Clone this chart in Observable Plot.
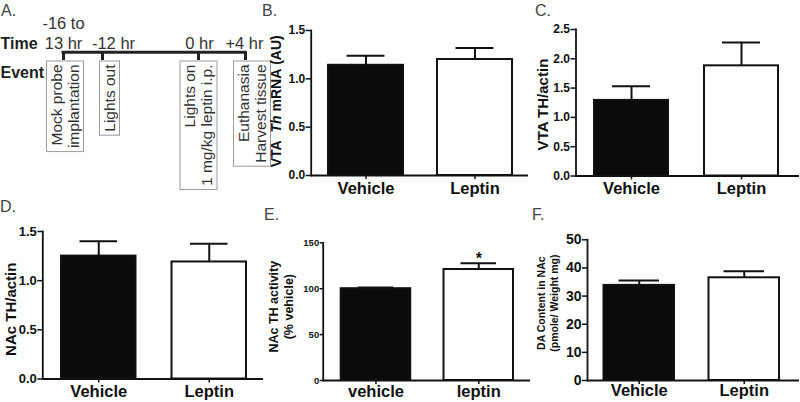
<!DOCTYPE html>
<html><head><meta charset="utf-8">
<script src="https://cdn.jsdelivr.net/npm/d3@7"></script>
<script src="https://cdn.jsdelivr.net/npm/@observablehq/plot@0.6"></script>
<style>
html,body{margin:0;padding:0;background:#fff;}
#fig{position:relative;width:800px;height:402px;overflow:hidden;font-family:"Liberation Sans",Arial,Helvetica,sans-serif;}
#fig svg{position:absolute;}
.letter{position:absolute;font-size:16px;line-height:1;color:#444;}
</style></head><body><div id="fig"></div>
<script>
// ---------------- DATA ----------------
// Panel A: timeline
const eventTimes = [-16, -12, 0, 4];
const timeLabels = ["-16 to\n13 hr", "-12 hr", "0 hr", "+4 hr"];
const eventLabels = [["Mock probe", "implantation"], ["Lights out"], ["Lights on", "1 mg/kg leptin i.p."], ["Euthanasia", "Harvest tissue"]];
const rowLabels = ["Time", "Event"];
// Groups
const groupsCap = ["Vehicle", "Leptin"];
const groupsLow = ["vehicle", "leptin"];
// Panel B: VTA Th mRNA
const vtaMrna = [1.14, 1.20];
const vtaMrnaSem = [0.10, 0.12];
const vtaMrnaTicks = [0, 0.5, 1.0, 1.5];
// Panel C: VTA TH/actin
const vtaActin = [1.29, 1.88];
const vtaActinSem = [0.24, 0.40];
const vtaActinTicks = [0, 0.5, 1.0, 1.5, 2.0, 2.5];
// Panel D: NAc TH/actin
const nacActin = [1.25, 1.19];
const nacActinSem = [0.15, 0.185];
const nacActinTicks = [0, 0.5, 1.0, 1.5];
// Panel E: NAc TH activity (% vehicle)
const nacActivity = [100, 120.9];
const nacActivitySem = [1.3, 6.9];
const nacActivitySig = ["", "*"];
const nacActivityTicks = [0, 50, 100, 150];
// Panel F: DA content in NAc
const nacDA = [33.8, 36.5];
const nacDASem = [1.7, 2.3];
const nacDATicks = [0, 10, 20, 30, 40, 50];

// ---------------- LAYOUT ----------------
const FONT = '"Liberation Sans", Arial, Helvetica, sans-serif';
const INK = "#111";
const fig = document.getElementById("fig");

function place(svg, left, top) {
  svg.style.left = left + "px";
  svg.style.top = top + "px";
  fig.appendChild(svg);
}

// ---- Panel A ----
const aL = {w: 260, h: 200, tickPx: [63, 102, 198, 245], timeShift: [0, 11, 1, -1],
  boxShift: [2, 7.5, 0.5, 7], rowY: [48, 77], timeBaseline: 48, lineY: 51.7, tickY2: 60,
  boxTop: 61, textPad: 3, linePitch: 17, boxPadBottom: 4, boxFont: 15.5};
const xA = d3.scaleLinear().domain(eventTimes).range(aL.tickPx);
const ctx = document.createElement("canvas").getContext("2d");
ctx.font = `${aL.boxFont}px "Liberation Sans"`;
const boxes = eventLabels.map((lines, i) => {
  const cx = aL.tickPx[i] + aL.boxShift[i];
  const w = lines.length * aL.linePitch + 3;
  const len = d3.max(lines, s => ctx.measureText(s).width);
  return {i, cx, w, y2: aL.boxTop + aL.textPad + len + aL.boxPadBottom};
});
const boxLines = eventLabels.flatMap((lines, i) => lines.map((s, j) => ({
  text: s, cx: boxes[i].cx + (j - (lines.length - 1) / 2) * aL.linePitch
})));

const svgA = Plot.plot({
  width: aL.w, height: aL.h, margin: 0,
  style: {fontFamily: FONT, background: "transparent", overflow: "visible"},
  x: {type: "linear", domain: eventTimes, range: aL.tickPx, axis: null},
  y: {type: "linear", domain: [0, aL.h], range: [0, aL.h], axis: null},
  marks: [
    Plot.text(rowLabels, {frameAnchor: "left", y: (d, i) => aL.rowY[i], text: d => d,
      textAnchor: "start", lineAnchor: "bottom", fontWeight: "bold", fontSize: 16, fill: "#222"}),
    Plot.text(timeLabels, {x: (d, i) => xA.invert(xA(eventTimes[i]) + aL.timeShift[i]), y: aL.timeBaseline,
      text: d => d, textAnchor: "middle", lineAnchor: "bottom", lineHeight: 1.2, fontSize: 16.5, fill: "#333"}),
    Plot.ruleY([aL.lineY], {x1: eventTimes[0], x2: eventTimes[eventTimes.length - 1], stroke: "#222", strokeWidth: 3, strokeLinecap: "square"}),
    Plot.ruleX(eventTimes, {x: d => d, y1: aL.lineY, y2: aL.tickY2, stroke: "#222", strokeWidth: 3}),
    Plot.rect(boxes, {x1: d => xA.invert(d.cx - d.w / 2), x2: d => xA.invert(d.cx + d.w / 2),
      y1: aL.boxTop, y2: "y2", fill: "none", stroke: "#9a9a9a", strokeWidth: 1}),
    Plot.text(boxLines, {x: d => xA.invert(d.cx), y: aL.boxTop + aL.textPad, text: "text", rotate: -90,
      textAnchor: "end", lineAnchor: "middle", fontSize: aL.boxFont, fill: "#333"})
  ]
});
place(svgA, 0, 0);

// ---- Bar panels ----
function bandFit(f0, f1, L1, R2, w) {
  const s = (R2 - w / 2) - (L1 + w / 2);
  const pi = 1 - w / s;
  const po = ((f1 - f0) / s - 2 + pi) / 2;
  const align = (L1 - f0) / (f1 - f0 - s * (2 - pi));
  return {paddingInner: pi, paddingOuter: po, align: Math.max(0, Math.min(1, align))};
}

function barPanel(c) {
  const L = c.layout;
  const ml = L.axisX - L.left, mr = L.left + L.w - L.axisRight;
  const mt = L.yTop - L.top, mb = L.top + L.h - L.yBottom;
  const band = bandFit(ml, L.w - mr, L.bar1 - L.left, L.bar2 - L.left, L.barW);
  const rows = c.groups.map((g, i) => ({group: g, value: c.values[i], sem: c.sem[i], sig: c.sig ? c.sig[i] : ""}));
  const marks = [
    Plot.barY(rows, {x: "group", y: "value", fill: "group", stroke: INK, strokeWidth: 2}),
    Plot.ruleX(rows, {x: "group", y1: "value", y2: d => d.value + d.sem, stroke: INK, strokeWidth: 2}),
    Plot.tickY(rows, {x: "group", y: d => d.value + d.sem, stroke: INK, strokeWidth: 2, insetLeft: L.capInset, insetRight: L.capInset}),
    Plot.ruleY([0], {stroke: INK, strokeWidth: 1.8}),
    Plot.frame({anchor: "left", stroke: INK, strokeWidth: 1.8}),
    Plot.axisY({ticks: c.ticks, tickFormat: c.fmt, tickSize: L.tickSize, tickPadding: L.tickPad, fontSize: L.tickFont,
      fontWeight: "bold", label: null, stroke: INK, strokeWidth: 1.5, fill: INK}),
    Plot.axisX({tickSize: 4, tickPadding: L.xPad, fontSize: 16.5, fontWeight: "bold", label: null, stroke: INK, strokeWidth: 1.5, fill: INK}),
    Plot.text([c.label], {frameAnchor: "left", text: d => d, rotate: -90, dx: L.labelDx, dy: L.labelDy,
      textAnchor: "middle", lineAnchor: "middle", lineHeight: L.lineHeight || 1.2, fontSize: L.labelFont, fontWeight: "bold", fill: INK})
  ];
  if (c.sig) marks.push(Plot.text(rows, {x: "group", y: d => d.value + d.sem, text: "sig", lineAnchor: "bottom", dy: 1, fontSize: 16, fontWeight: "bold", fill: INK}));
  const svg = Plot.plot({
    width: L.w, height: L.h, marginLeft: ml, marginRight: mr, marginTop: mt, marginBottom: mb,
    style: {fontFamily: FONT, background: "transparent", overflow: "visible", color: INK},
    x: {type: "band", domain: c.groups, ...band, round: false, axis: null},
    y: {domain: [0, c.ticks[c.ticks.length - 1]], axis: null},
    color: {domain: c.groups, range: ["#0b0b0b", "#ffffff"]},
    marks
  });
  if (c.italic) {
    svg.querySelectorAll("text").forEach(t => {
      if (t.textContent === c.label && t.children.length === 0) {
        const [pre, post] = c.label.split(c.italic);
        t.textContent = "";
        const mk = (s, it) => {
          const ts = document.createElementNS("http://www.w3.org/2000/svg", "tspan");
          ts.textContent = s.replace(/ /g, "\u00a0");
          if (it) ts.setAttribute("font-style", "italic");
          t.appendChild(ts);
        };
        mk(pre, false); mk(c.italic, true); mk(post, false);
      }
    });
  }
  place(svg, L.left, L.top);
}

barPanel({groups: groupsCap, values: vtaMrna, sem: vtaMrnaSem, ticks: vtaMrnaTicks, fmt: ".1f",
  label: "VTA  Th mRNA (AU)", italic: "Th",
  layout: {left: 260, top: 0, w: 270, h: 200, axisX: 310.7, axisRight: 528, yTop: 30, yBottom: 175,
    bar1: 328, bar2: 512, barW: 75, capInset: 18.5, tickSize: 5, tickPad: 1, tickFont: 12, xPad: 3,
    labelFont: 14, labelDx: -35.7, labelDy: -1.7}});

barPanel({groups: groupsCap, values: vtaActin, sem: vtaActinSem, ticks: vtaActinTicks, fmt: ".1f",
  label: "VTA TH/actin",
  layout: {left: 530, top: 0, w: 270, h: 200, axisX: 575.5, axisRight: 799, yTop: 29, yBottom: 175.5,
    bar1: 594, bar2: 778, barW: 74, capInset: 18, tickSize: 5, tickPad: 1, tickFont: 12, xPad: 2,
    labelFont: 15, labelDx: -33.8, labelDy: 1.8}});

barPanel({groups: groupsCap, values: nacActin, sem: nacActinSem, ticks: nacActinTicks, fmt: ".1f",
  label: "NAc TH/actin",
  layout: {left: 0, top: 200, w: 265, h: 202, axisX: 42.3, axisRight: 263, yTop: 231, yBottom: 378.5,
    bar1: 61, bar2: 246, barW: 74.5, capInset: 18.5, tickSize: 5, tickPad: 1, tickFont: 13, xPad: 2,
    labelFont: 15, labelDx: -32.3, labelDy: 4}});

barPanel({groups: groupsLow, values: nacActivity, sem: nacActivitySem, sig: nacActivitySig, ticks: nacActivityTicks, fmt: "d",
  label: "NAc TH activity\n(% vehicle)",
  layout: {left: 265, top: 200, w: 265, h: 202, axisX: 322.7, axisRight: 530, yTop: 242.3, yBottom: 380,
    bar1: 340.7, bar2: 513, barW: 69.5, capInset: 17, tickSize: 3, tickPad: 1, tickFont: 9.5, xPad: 0.5,
    labelFont: 12.5, lineHeight: 1.2, labelDx: -42.2, labelDy: -5}});

barPanel({groups: groupsCap, values: nacDA, sem: nacDASem, ticks: nacDATicks, fmt: "d",
  label: "DA Content in NAc\n(pmole/ Weight mg)",
  layout: {left: 530, top: 200, w: 270, h: 202, axisX: 587, axisRight: 799, yTop: 239.3, yBottom: 380,
    bar1: 603.5, bar2: 779, barW: 70.5, capInset: 15, tickSize: 5, tickPad: 1, tickFont: 14, xPad: 0,
    labelFont: 10.5, lineHeight: 1.25, labelDx: -40, labelDy: -7}});

// Panel letters
const panelLetters = ["A.", "B.", "C.", "D.", "E.", "F."];
const letterPos = [[1, 3], [262, 3], [535, 2.5], [0, 198.5], [264, 207], [532, 206.5]];
panelLetters.forEach((s, i) => {
  const d = document.createElement("div");
  d.className = "letter";
  d.textContent = s;
  d.style.left = letterPos[i][0] + "px";
  d.style.top = letterPos[i][1] + "px";
  fig.appendChild(d);
});
</script></body></html>
